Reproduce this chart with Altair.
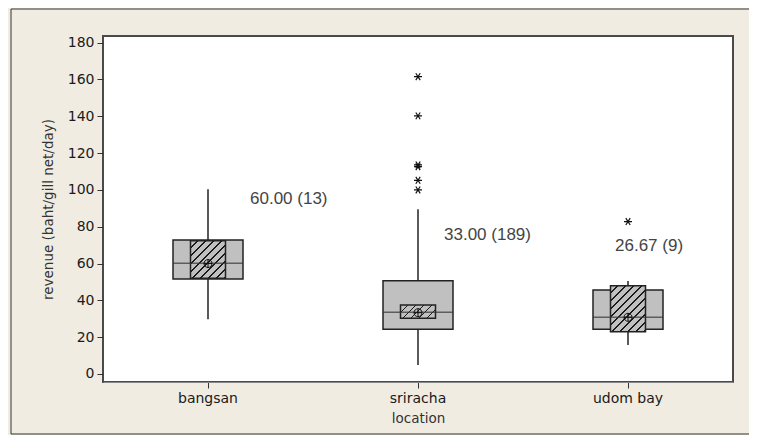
import altair as alt
import pandas as pd

# ---- data ----
locations = ["bangsan", "sriracha", "udom bay"]
q1 = [51.6, 24.3, 24.3]
q3 = [72.8, 50.7, 45.6]
median = [60.2, 33.5, 30.8]
whisker_lo = [29.7, 4.9, 15.8]
whisker_hi = [100.4, 89.5, 50.5]
ci_lo = [52.0, 30.3, 23.0]
ci_hi = [72.4, 37.5, 48.0]
mean = [60.0, 33.3, 30.8]

outlier_loc = ["sriracha"] * 6 + ["udom bay"]
outlier_val = [161.5, 140.2, 113.6, 112.6, 105.2, 100.0, 82.8]

label_text = ["60.00 (13)", "33.00 (189)", "26.67 (9)"]
label_y = [95.1, 75.5, 69.6]

y_ticks = [0, 20, 40, 60, 80, 100, 120, 140, 160, 180]

# ---- layout / style ----
W, H = 630, 346
YMIN, YMAX = -4.35, 183.6
PX = H / (YMAX - YMIN)
BOX_W, CI_W = 70, 35
LABEL_DX = [42, 26, -13]
GREY = "#c0c0c0"
BG = "#f0ece2"
FONT = "DejaVu Sans"

boxes = pd.DataFrame({
    "location": locations, "q1": q1, "q3": q3, "median": median,
    "lo": whisker_lo, "hi": whisker_hi, "ci_lo": ci_lo, "ci_hi": ci_hi,
    "mean": mean,
})
outliers = pd.DataFrame({"location": outlier_loc, "value": outlier_val})
labels = pd.DataFrame({"location": locations, "text": label_text, "y": label_y})

xs = alt.Scale(type="band", domain=locations, paddingInner=0, paddingOuter=0)
ys = alt.Scale(domain=[YMIN, YMAX], nice=False, zero=False)
X = alt.X("location:N", scale=xs,
          axis=alt.Axis(title="location", labelAngle=0))
Y_AX = alt.Axis(title="revenue (baht/gill net/day)", values=y_ticks,
                grid=False, domain=False, labelOverlap=False)


def Y(field):
    return alt.Y(field, scale=ys, axis=Y_AX)


base = alt.Chart(boxes)
one = alt.Chart(pd.DataFrame({"f": [0]}))

frame_left = one.mark_rule(color="#333", strokeWidth=1).encode(
    x=alt.value(-92), y=alt.value(-27), y2=alt.value(398))
frame_top = one.mark_rule(color="#333", strokeWidth=1).encode(
    x=alt.value(-92), x2=alt.value(700), y=alt.value(-27))
frame_bot = one.mark_rule(color="#333", strokeWidth=1).encode(
    x=alt.value(-92), x2=alt.value(700), y=alt.value(398))

whisk = base.mark_rule(color="#000", strokeWidth=1.3).encode(
    x=X, y=Y("lo:Q"), y2="hi:Q")

box = base.mark_bar(size=BOX_W, fill=GREY, stroke="#222", strokeWidth=1.5).encode(
    x=X, y=Y("q1:Q"), y2="q3:Q")


def hatch(w, h, spacing=8.0, line=1.4):
    s = w + h
    period = spacing / s
    lt = line / s
    stops = []
    k = 0.0
    while k < 1.0:
        stops += [
            {"offset": min(k, 1), "color": GREY},
            {"offset": min(k + period - lt, 1), "color": GREY},
            {"offset": min(k + period - lt, 1), "color": "#1a1a1a"},
            {"offset": min(k + period, 1), "color": "#1a1a1a"},
        ]
        k += period
    d = w * w + h * h
    return {"gradient": "linear", "x1": 0, "y1": 0,
            "x2": w * s / d, "y2": h * s / d, "stops": stops}


hatch_layers = []
for loc, lo, hi in zip(locations, ci_lo, ci_hi):
    g = hatch(CI_W, (hi - lo) * PX)
    hatch_layers.append(
        base.transform_filter(alt.datum.location == loc).mark_bar(
            size=CI_W, fill=g, stroke="#222", strokeWidth=1.5
        ).encode(x=X, y=Y("ci_lo:Q"), y2="ci_hi:Q")
    )

med = base.mark_tick(size=BOX_W, thickness=1.5, color="#333").encode(
    x=X, y=Y("median:Q"))

mean_sym = base.mark_point(
    shape="M-1,0A1,1,0,1,1,1,0A1,1,0,1,1,-1,0M-1,0L1,0M0,-1L0,1",
    size=64, filled=False, stroke="#111", strokeWidth=1, opacity=1
).encode(x=X, y=Y("mean:Q"))

outl = alt.Chart(outliers).mark_point(
    shape="M-1,0L1,0M-0.55,-0.85L0.55,0.85M-0.55,0.85L0.55,-0.85",
    size=64, filled=False, stroke="#111", strokeWidth=1.2, opacity=1
).encode(x=X, y=Y("value:Q"))

text_layers = []
for loc, dx in zip(locations, LABEL_DX):
    text_layers.append(
        alt.Chart(labels).transform_filter(alt.datum.location == loc).mark_text(
            align="left", baseline="middle", font="Liberation Sans",
            fontSize=17, color="#444", dx=dx
        ).encode(x=X, y=Y("y:Q"), text="text:N")
    )

chart = alt.layer(
    whisk, box, *hatch_layers, med, mean_sym, outl, *text_layers,
    frame_left, frame_top, frame_bot,
).properties(
    width=W, height=H,
    autosize=alt.AutoSizeParams(type="none"),
    padding={"left": 95, "top": 28, "right": 16, "bottom": 53},
    background=BG,
).configure_view(
    stroke="#4a4a4a", strokeWidth=2, fill="white"
).configure_axis(
    labelFont=FONT, labelFontSize=14, labelColor="#1a1a1a",
    titleFont=FONT, titleFontSize=13.5, titleFontWeight="normal", titleColor="#333",
    tickColor="#333", tickSize=6, labelPadding=3,
).configure_axisX(titlePadding=6).configure_axisY(titlePadding=12)

chart.save("out.html", embed_options={"renderer": "svg", "actions": False})
